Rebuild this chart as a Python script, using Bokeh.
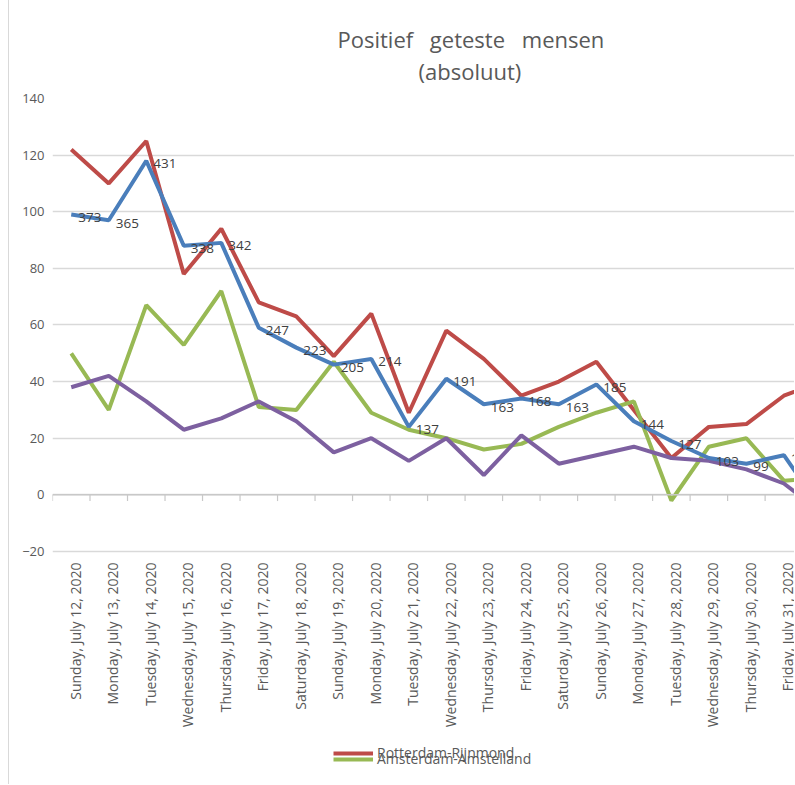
import math
from bokeh.plotting import figure
from bokeh.models import (Range1d, FixedTicker, Title, Legend, LegendItem, Span,
                          ColumnDataSource)
from bokeh.core.properties import value
from bokeh.embed import file_html
from bokeh.resources import INLINE

dates = ["Sunday, July 12, 2020", "Monday, July 13, 2020", "Tuesday, July 14, 2020",
         "Wednesday, July 15, 2020", "Thursday, July 16, 2020", "Friday, July 17, 2020",
         "Saturday, July 18, 2020", "Sunday, July 19, 2020", "Monday, July 20, 2020",
         "Tuesday, July 21, 2020", "Wednesday, July 22, 2020", "Thursday, July 23, 2020",
         "Friday, July 24, 2020", "Saturday, July 25, 2020", "Sunday, July 26, 2020",
         "Monday, July 27, 2020", "Tuesday, July 28, 2020", "Wednesday, July 29, 2020",
         "Thursday, July 30, 2020", "Friday, July 31, 2020", "Saturday, August 1, 2020"]

rotterdam = [122, 110, 125, 78, 94, 68, 63, 49, 64, 29, 58, 48, 35, 40, 47, 30, 13, 24, 25, 35, 40]
amsterdam = [50, 30, 67, 53, 72, 31, 30, 47, 29, 23, 20, 16, 18, 24, 29, 33, -2, 17, 20, 5, 6]
blue_series = [99, 97, 118, 88, 89, 59, 52, 46, 48, 24, 41, 32, 34, 32, 39, 26, 19, 13, 11, 14, -5]
purple_series = [38, 42, 33, 23, 27, 33, 26, 15, 20, 12, 20, 7, 21, 11, 14, 17, 13, 12, 9, 4, -6]
blue_labels = ["373", "365", "431", "338", "342", "247", "223", "205", "214", "137", "191",
               "163", "168", "163", "185", "144", "127", "103", "99", "108", ""]

y_ticks = [-20, 0, 20, 40, 60, 80, 100, 120, 140]

FONT = "Open Sans"
GREY = "#595959"
GRID = "#d9d9d9"

xs = [i + 0.5 for i in range(len(dates))]
bounds = [i for i in range(len(dates) + 1)]
y_min = min(y_ticks)

# frame extends below the value axis so that rotated date labels and the legend fit in it
p = figure(width=786, height=784, output_backend="svg", toolbar_location=None,
           title=None, x_range=Range1d(0, 19.81), y_range=Range1d(-99.5, 140),
           min_border_left=43, min_border_right=0, min_border_top=98,
           min_border_bottom=8)
p.outline_line_color = None
p.background_fill_color = "white"
p.border_fill_color = "white"

# titles (a blank spacer sits nearest the frame so the two title lines stay close)
spacer = Title(text="\u00a0", text_font=FONT, text_font_size="8px", standoff=0)
t2 = Title(text="(absoluut)", align="left", offset=366, text_font=FONT,
           text_font_size="22px", text_font_style="normal", text_color=GREY, standoff=0)
t1 = Title(text="Positief \u2002geteste \u2002mensen", align="left", offset=285,
           text_font=FONT, text_font_size="22px", text_font_style="normal",
           text_color=GREY, standoff=0)
p.add_layout(spacer, "above")
p.add_layout(t2, "above")
p.add_layout(t1, "above")

# axes
p.xaxis.visible = False

p.yaxis.ticker = FixedTicker(ticks=y_ticks)
p.yaxis.major_label_text_font = FONT
p.yaxis.major_label_text_font_size = "13px"
p.yaxis.major_label_text_color = GREY
p.yaxis.major_label_standoff = 2
p.yaxis.major_tick_line_color = None
p.yaxis.minor_tick_line_color = None
p.yaxis.axis_line_color = None

p.xgrid.grid_line_color = None
p.ygrid.ticker = FixedTicker(ticks=y_ticks)
p.ygrid.grid_line_color = GRID
p.ygrid.grid_line_width = 1.5

# category axis at zero with tick marks between categories
p.add_layout(Span(location=0, dimension="width", line_color="#c8c8c8", line_width=1.5))
p.segment(x0=bounds, y0=[0] * len(bounds), x1=bounds, y1=[-2.2] * len(bounds),
          line_color="#c8c8c8", line_width=1.2)

# date labels, rotated, below the lowest gridline
p.text(x=xs, y=[y_min] * len(xs), text=dates, angle=math.pi / 2, x_offset=4, y_offset=11,
       text_font=value(FONT), text_font_size="14px", text_color=GREY,
       text_align="right", text_baseline="middle")

src = ColumnDataSource(dict(x=xs, rot=rotterdam, ams=amsterdam, blue=blue_series,
                            purple=purple_series, lab=blue_labels))

r_red = p.line("x", "rot", source=src, line_color="#be4b48", line_width=4)
r_green = p.line("x", "ams", source=src, line_color="#98b954", line_width=4)
r_purple = p.line("x", "purple", source=src, line_color="#7d60a0", line_width=4)
r_blue = p.line("x", "blue", source=src, line_color="#4a7ebb", line_width=4)

p.text(x="x", y="blue", text="lab", source=src, x_offset=7, y_offset=3,
       text_font=value(FONT), text_font_size="13.5px", text_color="#404040",
       text_baseline="middle", text_align="left")

for item_label, rend, loc in [("Rotterdam-Rijnmond", r_red, (281, 14)),
                              ("Amsterdam-Amstelland", r_green, (281, 8))]:
    leg = Legend(items=[LegendItem(label=item_label, renderers=[rend])], location=loc,
                 orientation="vertical", padding=0, margin=0, spacing=0,
                 glyph_width=40, glyph_height=6, label_standoff=4,
                 label_text_font=FONT, label_text_font_size="14px",
                 label_text_color=GREY, border_line_color=None,
                 background_fill_alpha=0)
    p.add_layout(leg)

p.styles = {"border-left": "1px solid #d9d9d9", "margin-left": "8px"}

open("out.html", "w").write(file_html(p, INLINE))
